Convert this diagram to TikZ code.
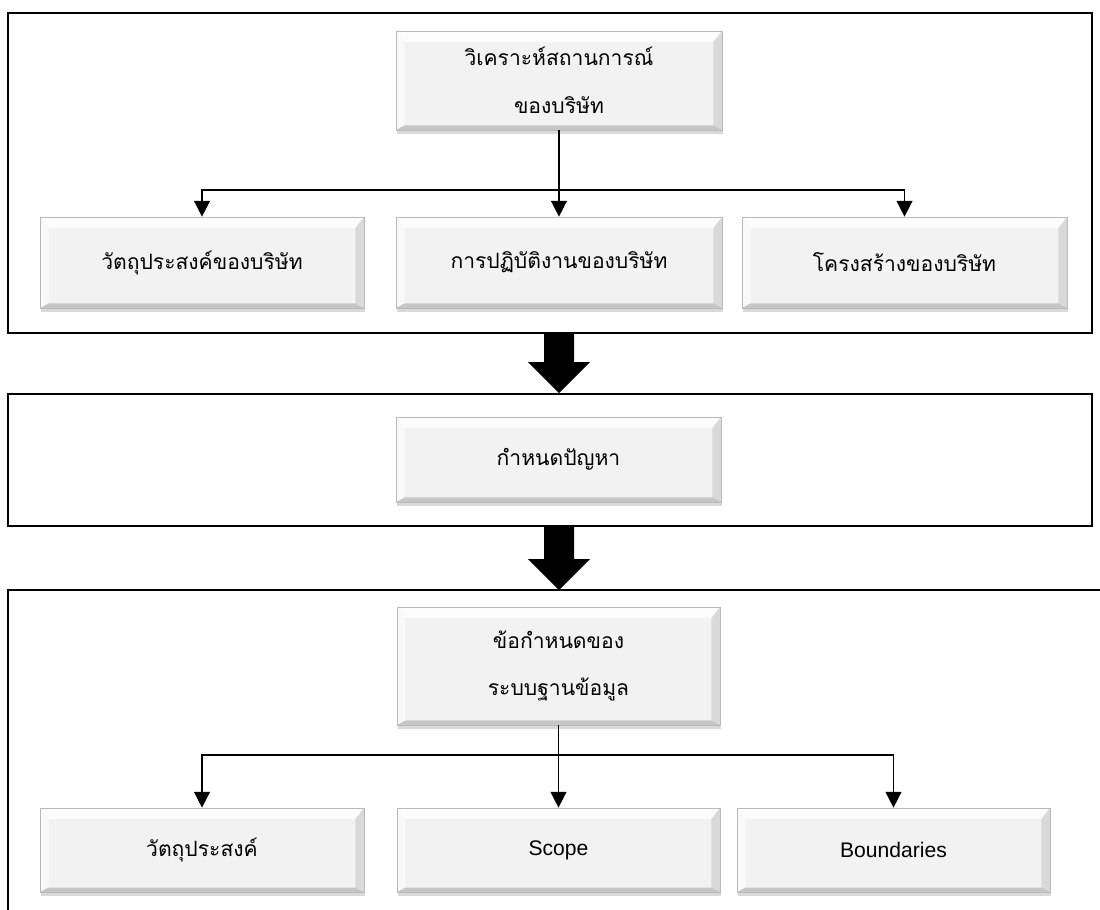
\documentclass[tikz,border=0pt]{standalone}
\usepackage{fontspec}
\newfontfamily\thaifont[Script=Thai]{Loma}
\newfontfamily\engfont{Liberation Sans}
\usepackage{tikz}
\usetikzlibrary{calc,shadows,arrows.meta}

\newcommand{\bevs}{0.17cm}
\newcommand{\bevt}{0.22cm}
\newcommand{\bevu}{0.09cm}

\tikzset{
  thaitext/.style={font=\thaifont\fontsize{12}{27}\selectfont},
  engtext/.style={font=\engfont\fontsize{12}{14}\selectfont},
  bevelbox/.style={minimum width=6.48cm, minimum height=1.82cm, inner sep=0pt, align=center,
    fill=gray!10, draw=gray!55, line width=0.4pt, thaitext,
    drop shadow={shadow xshift=0.4pt, shadow yshift=-2.5pt, opacity=0.3},
    path picture={
      \coordinate (pnw) at (path picture bounding box.north west);
      \coordinate (pne) at (path picture bounding box.north east);
      \coordinate (psw) at (path picture bounding box.south west);
      \coordinate (pse) at (path picture bounding box.south east);
      \coordinate (inw) at ($(pnw)+(\bevs,-\bevt)$);
      \coordinate (ine) at ($(pne)+(-\bevs,-\bevt)$);
      \coordinate (isw) at ($(psw)+(\bevs,\bevu)$);
      \coordinate (ise) at ($(pse)+(-\bevs,\bevu)$);
      \fill[gray!2] (pnw) -- (pne) -- (ine) -- (inw) -- cycle;
      \fill[gray!5] (pnw) -- (inw) -- (isw) -- (psw) -- cycle;
      \fill[gray!30] (pne) -- (ine) -- (ise) -- (pse) -- cycle;
      \fill[gray!45] (psw) -- (isw) -- (ise) -- (pse) -- cycle;
    }},
  frame/.style={draw, line width=0.9pt, inner sep=0pt},
  link/.style={line width=0.9pt},
  tip/.style={link, -{Triangle[width=9pt,length=9pt]}}
}

\begin{document}
\begin{tikzpicture}[x=0.02cm, y=-0.02cm]
  \useasboundingbox (0,0) rectangle (1100,910);
  % frames
  \node[frame, minimum width=21.68cm, minimum height=6.4cm] (f1) at (550,173) {};
  \node[frame, minimum width=21.68cm, minimum height=2.64cm] (f2) at (550,460) {};
  \draw[link] (1100,590) -- (8,590) -- (8,910);
  \coordinate (f3) at (550,590);

  % first part
  \node[bevelbox, minimum width=6.52cm, minimum height=1.98cm] (sit) at (559,80.5) {วิเคราะห์สถานการณ์\\ของบริษัท};
  \node[bevelbox] (obj) at (202,262.5) {วัตถุประสงค์ของบริษัท};
  \node[bevelbox, minimum width=6.52cm] (ops) at (559,262.5) {การปฏิบัติงานของบริษัท};
  \node[bevelbox, minimum width=6.5cm] (struct) at (904.5,262.5) {โครงสร้างของบริษัท};
  \coordinate (j1) at (559,190);
  \draw[link] (sit) -- (j1);
  \draw[tip] (j1) -| (obj.north);
  \draw[tip] (j1) -- (ops.north);
  \draw[tip] (j1) -| (struct.north);

  % second part
  \node[bevelbox, minimum width=6.5cm, minimum height=1.7cm] (prob) at (558.5,459.5) {กำหนดปัญหา};

  % third part
  \node[bevelbox, minimum width=6.46cm, minimum height=2.36cm] (req) at (558.5,666) {ข้อกำหนดของ\\ระบบฐานข้อมูล};
  \node[bevelbox, minimum height=1.68cm] (goal) at (202,850) {วัตถุประสงค์};
  \node[bevelbox, minimum width=6.46cm, minimum height=1.68cm, engtext] (scope) at (558.5,850) {Scope};
  \node[bevelbox, minimum width=6.26cm, minimum height=1.68cm, engtext] (bound) at (893.5,850) {Boundaries};
  \coordinate (j2) at (558.5,755);
  \draw[link] (req) -- (j2);
  \draw[tip] (j2) -| (goal.north);
  \draw[tip] (j2) -- (scope.north);
  \draw[tip] (j2) -| (bound.north);

  % big arrows between the parts
  \foreach \a/\b in {f1.south/f2.north, f2.south/f3} {
    \coordinate (s) at (sit.south |- \a);
    \coordinate (e) at (sit.south |- \b);
    \fill ($(s)+(-15,0)$) -- ($(s)+(15,0)$) -- ($(e)+(15,-31)$) -- ($(e)+(31,-31)$)
      -- (e) -- ($(e)+(-31,-31)$) -- ($(e)+(-15,-31)$) -- cycle;
  }
\end{tikzpicture}
\end{document}
